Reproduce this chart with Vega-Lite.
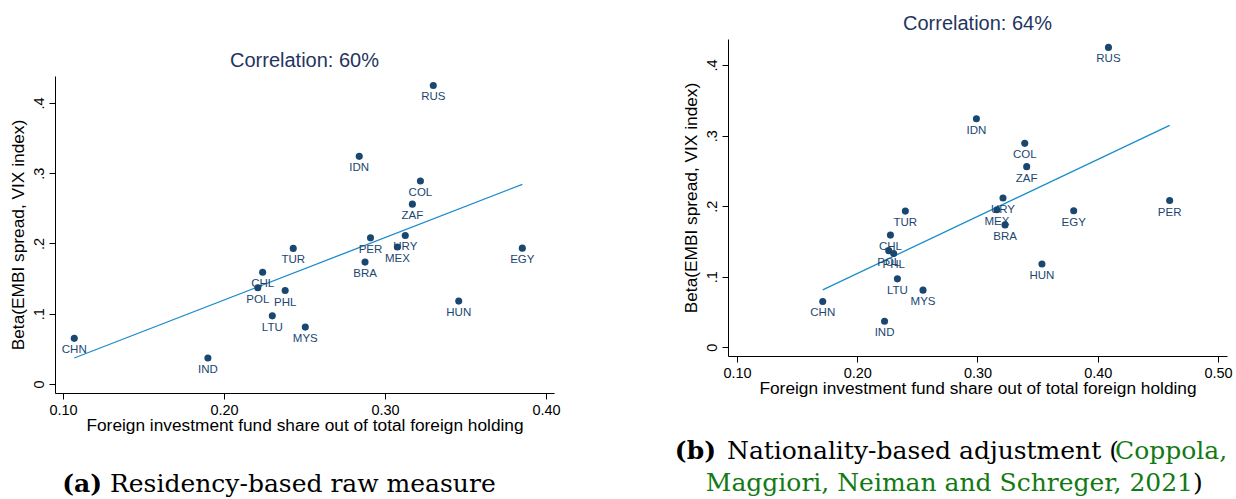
{
  "$schema": "https://vega.github.io/schema/vega-lite/v6.json",
  "padding": {"left": 9, "top": 14, "right": 0, "bottom": 0},
  "spacing": 113,
  "datasets": {
    "a": [
      {"country": "CHN", "share": 0.107, "beta": 0.065},
      {"country": "IND", "share": 0.190, "beta": 0.037},
      {"country": "CHL", "share": 0.224, "beta": 0.159},
      {"country": "POL", "share": 0.221, "beta": 0.137},
      {"country": "PHL", "share": 0.238, "beta": 0.133},
      {"country": "LTU", "share": 0.230, "beta": 0.097},
      {"country": "TUR", "share": 0.243, "beta": 0.193},
      {"country": "MYS", "share": 0.2505, "beta": 0.081},
      {"country": "RUS", "share": 0.330, "beta": 0.425},
      {"country": "IDN", "share": 0.284, "beta": 0.324},
      {"country": "COL", "share": 0.322, "beta": 0.289},
      {"country": "ZAF", "share": 0.317, "beta": 0.256},
      {"country": "PER", "share": 0.291, "beta": 0.208},
      {"country": "URY", "share": 0.3126, "beta": 0.2115},
      {"country": "MEX", "share": 0.3077, "beta": 0.195},
      {"country": "BRA", "share": 0.2876, "beta": 0.1735},
      {"country": "EGY", "share": 0.3853, "beta": 0.1934},
      {"country": "HUN", "share": 0.3458, "beta": 0.118}
    ],
    "b": [
      {"country": "CHN", "share": 0.1713, "beta": 0.065},
      {"country": "IND", "share": 0.2227, "beta": 0.037},
      {"country": "TUR", "share": 0.240, "beta": 0.193},
      {"country": "CHL", "share": 0.2276, "beta": 0.159},
      {"country": "POL", "share": 0.2262, "beta": 0.137},
      {"country": "PHL", "share": 0.2303, "beta": 0.133},
      {"country": "LTU", "share": 0.2334, "beta": 0.097},
      {"country": "MYS", "share": 0.2547, "beta": 0.081},
      {"country": "RUS", "share": 0.4089, "beta": 0.425},
      {"country": "IDN", "share": 0.2991, "beta": 0.324},
      {"country": "COL", "share": 0.3393, "beta": 0.289},
      {"country": "ZAF", "share": 0.3409, "beta": 0.256},
      {"country": "URY", "share": 0.3212, "beta": 0.2115},
      {"country": "MEX", "share": 0.3162, "beta": 0.195},
      {"country": "BRA", "share": 0.3229, "beta": 0.1735},
      {"country": "EGY", "share": 0.380, "beta": 0.1934},
      {"country": "PER", "share": 0.4598, "beta": 0.208},
      {"country": "HUN", "share": 0.3536, "beta": 0.118}
    ]
  },
  "config": {
    "view": {"stroke": null},
    "font": "Liberation Sans",
    "axis": {
      "grid": false,
      "domainColor": "#000000",
      "tickColor": "#000000",
      "labelColor": "#000000",
      "titleColor": "#000000",
      "labelFont": "Liberation Sans",
      "titleFont": "Liberation Sans",
      "labelFontSize": 14.5,
      "titleFontSize": 17.3,
      "titleFontWeight": "normal",
      "tickSize": 6,
      "domainWidth": 1,
      "tickWidth": 1,
      "labelOverlap": false,
      "labelBound": false
    },
    "axisX": {"labelPadding": 4, "titlePadding": 0, "labelFlush": false},
    "axisY": {"labelAngle": -90, "labelAlign": "center", "labelBaseline": "bottom", "labelPadding": 3, "titlePadding": 4},
    "title": {"font": "Liberation Sans", "fontSize": 20, "fontWeight": "normal", "color": "#1f3560", "frame": "group", "anchor": "middle", "offset": 5, "baseline": "alphabetic"}
  },
  "hconcat": [
    {
      "bounds": "flush",
      "spacing": 0,
      "vconcat": [
        {
          "width": 499,
          "height": 37,
          "data": {"values": []},
          "mark": {"type": "point"},
          "encoding": {}
        },
        {
          "width": 499,
          "height": 317,
          "title": {"text": "Correlation: 60%"},
          "data": {"name": "a"},
          "encoding": {
            "x": {"field": "share", "type": "quantitative", "scale": {"domain": [0.09503, 0.40497], "nice": false, "zero": false},
              "axis": {"values": [0.1, 0.2, 0.3, 0.4], "format": ".2f", "title": "Foreign investment fund share out of total foreign holding"}},
            "y": {"field": "beta", "type": "quantitative", "scale": {"domain": [-0.0128, 0.4384], "nice": false, "zero": false},
              "axis": {"values": [0, 0.1, 0.2, 0.3, 0.4], "labelExpr": "datum.value == 0 ? '0' : replace(format(datum.value, '.1f'), '0.', '.')", "title": "Beta(EMBI spread, VIX index)"}}
          },
          "layer": [
            {"transform": [{"regression": "beta", "on": "share"}], "mark": {"type": "line", "color": "#1b8ccc", "strokeWidth": 1.3}},
            {"mark": {"type": "point", "filled": true, "size": 50, "color": "#1a476f", "opacity": 1}},
            {"mark": {"type": "text", "dy": 12, "baseline": "middle", "align": "center", "fontSize": 11.5, "color": "#1a476f", "font": "Liberation Sans"}, "encoding": {"text": {"field": "country"}}}
          ]
        },
        {
          "width": 499,
          "height": 110,
          "data": {"values": [{}]},
          "layer": [
            {"mark": {"type": "text", "text": "(a)", "font": "DejaVu Serif", "fontSize": 25, "fontWeight": "bold", "color": "#000000", "align": "right", "baseline": "alphabetic", "x": 47, "y": 99}, "encoding": {}},
            {"mark": {"type": "text", "text": "Residency-based raw measure", "font": "DejaVu Serif", "fontSize": 25, "color": "#000000", "align": "left", "baseline": "alphabetic", "x": 55, "y": 99}, "encoding": {}}
          ]
        }
      ]
    },
    {
      "bounds": "flush",
      "spacing": 0,
      "vconcat": [
        {
          "width": 499,
          "height": 317,
          "title": {"text": "Correlation: 64%"},
          "data": {"name": "b"},
          "encoding": {
            "x": {"field": "share", "type": "quantitative", "scale": {"domain": [0.09252, 0.50748], "nice": false, "zero": false},
              "axis": {"values": [0.1, 0.2, 0.3, 0.4, 0.5], "format": ".2f", "title": "Foreign investment fund share out of total foreign holding"}},
            "y": {"field": "beta", "type": "quantitative", "scale": {"domain": [-0.0123, 0.4369], "nice": false, "zero": false},
              "axis": {"values": [0, 0.1, 0.2, 0.3, 0.4], "labelExpr": "datum.value == 0 ? '0' : replace(format(datum.value, '.1f'), '0.', '.')", "title": "Beta(EMBI spread, VIX index)"}}
          },
          "layer": [
            {"transform": [{"regression": "beta", "on": "share"}], "mark": {"type": "line", "color": "#1b8ccc", "strokeWidth": 1.3}},
            {"mark": {"type": "point", "filled": true, "size": 50, "color": "#1a476f", "opacity": 1}},
            {"mark": {"type": "text", "dy": 12, "baseline": "middle", "align": "center", "fontSize": 11.5, "color": "#1a476f", "font": "Liberation Sans"}, "encoding": {"text": {"field": "country"}}}
          ]
        },
        {
          "width": 499,
          "height": 145,
          "data": {"values": [{}]},
          "layer": [
            {"mark": {"type": "text", "text": "(b)", "font": "DejaVu Serif", "fontSize": 25, "fontWeight": "bold", "color": "#000000", "align": "right", "baseline": "alphabetic", "x": -12, "y": 103}, "encoding": {}},
            {"mark": {"type": "text", "text": "Nationality-based adjustment (", "font": "DejaVu Serif", "fontSize": 25, "color": "#000000", "align": "left", "baseline": "alphabetic", "x": -1, "y": 103}, "encoding": {}},
            {"mark": {"type": "text", "text": "Coppola,", "font": "DejaVu Serif", "fontSize": 25, "color": "#137a13", "align": "left", "baseline": "alphabetic", "x": 387, "y": 103}, "encoding": {}},
            {"mark": {"type": "text", "text": "Maggiori, Neiman and Schreger, 2021", "font": "DejaVu Serif", "fontSize": 25, "color": "#137a13", "align": "right", "baseline": "alphabetic", "x": 465, "y": 135}, "encoding": {}},
            {"mark": {"type": "text", "text": ")", "font": "DejaVu Serif", "fontSize": 25, "color": "#000000", "align": "left", "baseline": "alphabetic", "x": 465, "y": 135}, "encoding": {}}
          ]
        }
      ]
    }
  ]
}
